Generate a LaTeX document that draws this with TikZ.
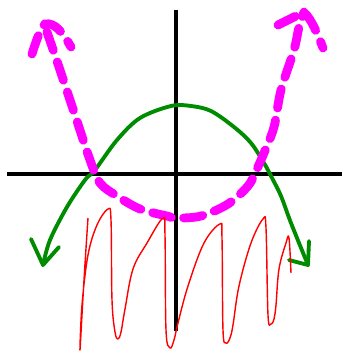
\documentclass[tikz,border=0pt]{standalone}
\usepackage{xcolor}
\usepackage{tikz}
\definecolor{sketchgreen}{RGB}{0,140,0}
\definecolor{sketchpink}{RGB}{255,0,255}

\begin{document}
\begin{tikzpicture}[
        x=0.02cm, y=-0.02cm,
        axis/.style={draw=black, line width=2.3pt},
        curve/.style={draw=sketchgreen, line width=2.2pt, line cap=round, line join=round},
        flip/.style={draw=sketchpink, line width=5pt, line cap=round, dash pattern=on 11pt off 7pt},
        scribble/.style={draw=red, line width=0.8pt, line join=round}
    ]
        \useasboundingbox (0,0) rectangle (342,353);

        % Axes
        \coordinate (xl) at (7,174);
        \coordinate (xr) at (342,174);
        \coordinate (yt) at (176,10);
        \coordinate (yb) at (176,331);
        \draw[axis] (xl) -- (xr);
        \draw[axis] (yt) -- (yb);

        % Downward parabola
        \coordinate (gl) at (43,265);
        \coordinate (gr) at (308,265);
        \draw[curve] plot[smooth, tension=0.55] coordinates {(43,265) (50,240) (67,207) (85,180) (95,170)
            (117,140) (140,118) (171,106) (191,106) (211,111) (234,127) (251,143) (264,163)
            (271,176) (281,196) (291,223) (308,265)};
        \draw[curve] (31,239) -- (gl) -- (59,247);
        \draw[curve] (309,241) -- (gr) -- (289,260);

        % Flipped parabola (dashed)
        \coordinate (pl) at (45,24);
        \coordinate (pr) at (304,12);
        \draw[flip] plot[smooth, tension=0.55] coordinates {(47,32) (60,70) (75,115) (90,160) (100,183)
            (117,196) (140,209) (167,216) (176,218) (201,216) (228,204) (248,186) (256,171)
            (264,153) (274,127) (281,90) (294,50) (299,27) (304,12)};
        \draw[flip] (32,54) .. controls (38,35) and (42,26) .. (pl) .. controls (55,22) and (63,33) .. (71,47);
        \draw[flip] (278,25) -- (pr) .. controls (312,20) and (318,35) .. (323,48);

        % Scribble below
        \draw[scribble] plot[smooth, tension=0.6] coordinates {(88,218) (84,280) (80,350) (82,305) (88,255)
            (97,225) (108,209) (111,220) (112,300) (115,332) (118,339) (121,332) (125,309) (133,269) (147,243)
            (163,218) (165,235) (166,330) (170,348) (174,340) (178,323) (188,286) (204,243) (220,224)
            (222,238) (223,330) (226,343) (230,338) (233,325) (239,286) (251,243) (263,219) (266,228)
            (268,315) (271,324) (274,319) (276,305) (279,269) (286,243) (289,238) (291,273)};
    \end{tikzpicture}
\end{document}
